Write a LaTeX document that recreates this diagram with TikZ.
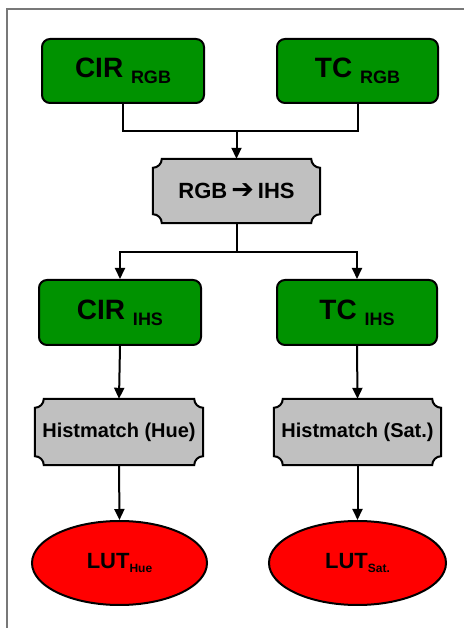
\documentclass[tikz,border=0pt]{standalone}
\usepackage{fontspec}
\setmainfont{Liberation Sans}
\newfontfamily\arrowfont{DejaVu Sans}
\usetikzlibrary{shapes.geometric,arrows.meta,backgrounds}
\definecolor{boxgreen}{RGB}{0,146,0}
\definecolor{boxgray}{RGB}{192,192,192}
\definecolor{lutred}{RGB}{255,0,0}
\definecolor{framegray}{RGB}{120,120,120}
\newcommand{\notchoutline}[2]{%
  \draw[notchline] ([yshift=-#2]#1.north west) arc[start angle=270,end angle=360,radius=#2]
    -- ([xshift=-#2]#1.north east) arc[start angle=180,end angle=270,radius=#2]
    -- ([yshift=#2]#1.south east) arc[start angle=90,end angle=180,radius=#2]
    -- ([xshift=#2]#1.south west) arc[start angle=0,end angle=90,radius=#2]
    -- cycle;}
\newcommand{\bigsub}[2]{\raisebox{-5pt}{\fontsize{28}{28}\selectfont #1 \raisebox{-6pt}{\fontsize{18}{18}\selectfont #2}}}
\newcommand{\lutsub}[1]{\raisebox{-3pt}{\fontsize{22}{22}\selectfont LUT\raisebox{-4pt}{\fontsize{12}{12}\selectfont #1}}}
\begin{document}
\begin{tikzpicture}[x=1pt,y=1pt,
  greenbox/.style={draw=black, line width=2pt, fill=boxgreen, rounded corners=8pt,
    minimum height=64pt, inner sep=0pt, font=\bfseries},
  histbox/.style={minimum height=65pt, inner sep=0pt, font=\bfseries\fontsize{20}{20}\selectfont},
  notchline/.style={draw=black, line width=2pt, fill=boxgray},
  lut/.style={ellipse, draw=black, line width=2pt, fill=lutred, minimum height=84pt, inner sep=0pt, font=\bfseries},
  conn/.style={draw=black, line width=2pt},
  arr/.style={conn, -{Triangle[length=11pt,width=10pt]}}
]
\useasboundingbox (0,0) rectangle (464,628);
\draw[framegray, line width=2pt] (7,0) -- (7,619) -- (464,619);

% nodes
\node[greenbox, minimum width=162pt] (cirrgb) at (123,557) {\bigsub{CIR}{RGB}};
\node[greenbox, minimum width=161pt] (tcrgb) at (357.5,557) {\bigsub{TC}{RGB}};
\node[histbox, minimum width=167pt, minimum height=64pt, font=\bfseries\fontsize{22}{22}\selectfont] (rgbihs) at (236.5,437)
  {RGB\hspace{4pt}\raisebox{0.5pt}{\arrowfont\bfseries\fontsize{27}{27}\selectfont ➔}\hspace{4pt}IHS};
\node[greenbox, minimum width=162pt, minimum height=65pt] (cirihs) at (120,315.5) {\bigsub{CIR}{IHS}};
\node[greenbox, minimum width=160pt, minimum height=65pt] (tcihs) at (357,315.5) {\bigsub{TC}{IHS}};
\node[histbox, minimum width=168pt, minimum height=66pt] (histhue) at (119,196) {Histmatch (Hue)};
\node[histbox, minimum width=167pt, minimum height=66pt] (histsat) at (357.5,196) {Histmatch (Sat.)};
\node[lut, minimum width=175pt] (luthue) at (119.5,65) {\lutsub{Hue}};
\node[lut, minimum width=177pt] (lutsat) at (357.5,65) {\lutsub{Sat.}};

\begin{scope}[on background layer]
  \notchoutline{rgbihs}{9pt}
  \notchoutline{histhue}{9pt}
  \notchoutline{histsat}{9pt}
\end{scope}

% connectors
\coordinate (j1) at (236.5,497);
\coordinate (j2) at (236.5,376);
\draw[conn] (cirrgb.south) |- (j1) -| (tcrgb.south);
\draw[arr] (j1) -- (rgbihs.north);
\draw[conn] (rgbihs.south) -- (j2);
\draw[arr] (j2) -| (cirihs.north);
\draw[arr] (j2) -| (tcihs.north);
\draw[arr] (cirihs.south) -- (histhue.north);
\draw[arr] (tcihs.south) -- (histsat.north);
\draw[arr] (histhue.south) -- (luthue.north);
\draw[arr] (histsat.south) -- (lutsat.north);
\end{tikzpicture}
\end{document}
